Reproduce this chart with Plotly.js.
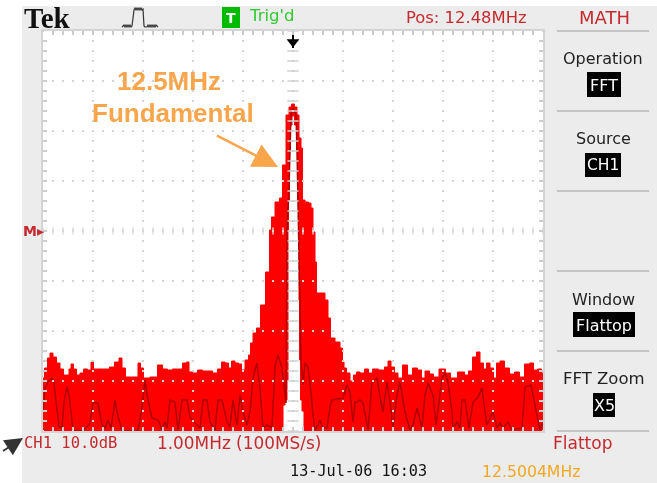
<!DOCTYPE html>
<html><head><meta charset="utf-8">
<script src="https://cdn.plot.ly/plotly-3.0.1.min.js"></script>
<style>html,body{margin:0;padding:0;background:#fff;overflow:hidden}#g{width:657px;height:483px;filter:blur(0.5px)}</style>
</head><body><div id="g"></div>
<script>
// Upper envelope of the FFT (MHz, dB above bottom of screen)
var envFreq=[7.48,7.54,7.60,7.64,7.72,7.78,7.86,7.92,7.98,8.02,8.06,8.12,8.18,8.26,8.32,8.42,8.46,8.52,8.62,8.76,8.86,8.96,9.04,9.08,9.18,9.36,9.40,9.46,9.52,9.72,9.82,9.92,10.02,10.12,10.22,10.32,10.38,10.42,10.52,10.62,10.72,10.82,10.92,11.02,11.08,11.16,11.22,11.28,11.36,11.42,11.48,11.56,11.62,11.64,11.72,11.78,11.88,11.98,12.04,12.06,12.18,12.24,12.30,12.38,12.42,12.48,12.54,12.58,12.62,12.66,12.68,12.76,12.82,12.86,12.90,12.94,12.96,13.08,13.16,13.20,13.26,13.38,13.46,13.48,13.52,13.58,13.66,13.72,13.78,13.86,13.96,14.02,14.12,14.26,14.36,14.40,14.48,14.54,14.62,14.72,14.82,14.92,15.02,15.08,15.16,15.26,15.32,15.48,15.58,15.68,15.86,15.96,16.02,16.12,16.18,16.26,16.32,16.38,16.46,16.52,16.58,16.66,16.76,16.86,16.96,17.06,17.16,17.26,17.32,17.42,17.48];
var envDb=[10.6,12.6,14.6,15.6,14.8,13.6,12.4,11.2,11.2,12.4,13.4,12.4,11.2,11.6,12.4,12.2,13.8,12.4,12.4,12.4,12.8,13.8,14.6,12.6,10.8,10.8,13.6,12.6,10.6,10.8,13.2,12.4,12.2,12.4,12.4,13.6,13.8,11.8,11.6,12.2,12.0,12.0,11.6,12.4,13.8,13.6,12.6,14.0,13.6,13.4,12.2,14.2,15.2,17.6,19.6,20.6,25.2,31.8,40.2,42.8,45.8,46.6,53.2,63.2,64.8,65.4,64.8,63.2,58.6,56.6,46.2,45.8,45.6,44.6,39.8,33.8,27.6,27.6,26.2,22.6,18.6,17.8,16.6,13.8,12.6,11.6,10.0,11.2,11.8,11.6,12.4,11.6,12.4,12.2,12.8,14.0,12.8,11.6,10.6,13.2,11.2,12.6,12.2,10.6,12.0,11.4,10.8,12.4,11.6,10.6,11.8,11.2,12.0,14.8,15.8,13.6,12.4,13.6,12.6,10.6,13.6,14.0,12.6,11.4,11.8,10.8,13.4,13.6,12.2,12.4,11.6];
// Inner edge of the hollow around the carrier, right foot over the top to the left foot
var holeFreq=[12.72,12.68,12.64,12.62,12.60,12.60,12.58,12.56,12.54,12.48,12.44,12.42,12.40,12.38,12.38,12.34,12.30,12.26];
var holeDb=[0,4,6.2,14.2,26.2,40.2,46.2,56.2,61.2,63,61.2,56.2,46.2,40.2,10.2,6.2,5.2,0];
// Darker instantaneous trace
var traceFreq=[7.48,7.52,7.58,7.66,7.70,7.76,7.80,7.86,7.90,7.96,8.00,8.04,8.08,8.28,8.36,8.42,8.48,8.58,8.66,8.72,8.78,8.84,8.92,8.96,9.06,9.38,9.46,9.52,9.56,9.66,9.78,9.86,9.92,9.96,10.02,10.12,10.18,10.26,10.36,10.42,10.52,10.62,10.68,10.76,10.82,10.92,10.98,11.06,11.16,11.22,11.28,11.36,11.42,11.48,11.56,11.62,11.68,11.76,11.82,11.88,11.96,12.06,12.12,12.18,12.26,12.34,12.36,12.40,12.42,12.44,12.48,12.54,12.56,12.58,12.60,12.62,12.64,12.68,12.72,12.78,12.84,12.88,12.92,12.98,13.02,13.08,13.16,13.22,13.26,13.48,13.56,13.62,13.68,13.72,13.82,13.88,13.98,14.06,14.16,14.24,14.28,14.36,14.42,14.48,14.56,14.62,14.72,14.82,14.88,14.96,15.06,15.12,15.18,15.28,15.34,15.38,15.46,15.52,15.58,15.66,15.68,15.76,15.82,15.86,15.92,16.00,16.08,16.18,16.26,16.32,16.36,16.48,16.56,16.62,16.68,16.78,16.86,17.06,17.12,17.24,17.32,17.42,17.48];
var traceDb=[3.8,8.6,9.8,10.6,9.6,4.6,0.8,0.6,5.8,8.8,7.2,3.8,0.2,0,0.8,1.6,5.6,5.6,1.2,0.6,2.2,0.6,6.2,3.8,0,0,4.6,10.2,7.2,2.6,2.2,0.2,1.8,0.6,6.2,5.8,0.2,6.2,6.2,2.8,1.6,0.6,6.2,6.2,1.8,0.2,6.2,6.2,1.8,0.8,6.2,1.2,7.2,3.8,1.2,3.8,10.6,13.6,8.6,0.6,1.2,0.6,13.2,15.2,12.6,5.6,40.2,48.2,56.2,63.2,64.6,63.2,56.2,46.2,39.2,26.2,14.2,9.2,13.6,12.8,7.8,3.2,0.2,1.2,2.2,0.6,0.6,4.8,6.2,6.6,9.2,7.8,1.8,5.6,6.2,5.6,0.2,9.8,10.6,5.6,3.8,9.8,5.8,0.6,7.2,9.8,3.8,0.2,1.2,4.6,0.6,7.2,9.6,7.2,1.2,4.2,10.6,11.6,9.8,3.8,0.6,1.8,0.6,6.2,6.2,0.6,5.8,6.8,8.6,3.8,1.2,3.8,0.6,1.6,0.6,1.8,0.2,0.6,8.8,9.2,5.2,0.2,1.8];
// Screen graticule
var divFreq=[7.48,8.48,9.48,10.48,11.48,12.48,13.48,14.48,15.48,16.48,17.48];
var divDb=[0,10,20,30,40,50,60,70,80];
var subFreq=[7.48,7.68,7.88,8.08,8.28,8.48,8.68,8.88,9.08,9.28,9.48,9.68,9.88,10.08,10.28,10.48,10.68,10.88,11.08,11.28,11.48,11.68,11.88,12.08,12.28,12.48,12.68,12.88,13.08,13.28,13.48,13.68,13.88,14.08,14.28,14.48,14.68,14.88,15.08,15.28,15.48,15.68,15.88,16.08,16.28,16.48,16.68,16.88,17.08,17.28,17.48];
var subDb=[0,2,4,6,8,10,12,14,16,18,20,22,24,26,28,30,32,34,36,38,40,42,44,46,48,50,52,54,56,58,60,62,64,66,68,70,72,74,76,78,80];
var centerFreq=12.48, centerDb=40;
var triggerDb=[79.6,76.6];
// Text
var softLabels=[["Operation",603,59,16],["Source",603,138,16],["Window",603,299,16],["FFT Zoom",604,378,16.5]];
var softValues=[["FFT",604,85,16],["CH1",603,165,15.5],["Flattop",604,325,16],["X5",604,405,16]];
var pulseX=[122,124,125,126,127,128,129,130,131,132,134,135,136,137,138,139,140,141,142,143,144,145,147,148,149,150,151,152,153,154,155,156,158];
var pulseY=[27,25,27,25,27,25,27,25,27,26,10,8,10,8,10,8,10,8,10,9,26,27,27,25,27,25,27,25,27,25,27,25,27];
var seps=[31,111,191,271,351,431];

var L=43,T=31,W=500,H=400;
function px(x){return (x-L)/W;} function py(y){return (T+H-y)/H;}
var MONO='"DejaVu Sans Mono", monospace', SANS='"DejaVu Sans", sans-serif';
var RED='#c42a2f';
function label(t,x,y,size,color,family,weight){
  return {text:t,xref:'paper',yref:'paper',x:px(x),y:py(y),xanchor:'center',yanchor:'middle',showarrow:false,
    font:{family:family||SANS,size:size,color:color,weight:weight||400}};
}
var dotX=[],dotY=[];
divFreq.forEach(function(f){subDb.forEach(function(d){dotX.push(f);dotY.push(d);});});
divDb.forEach(function(d){subFreq.forEach(function(f){dotX.push(f);dotY.push(d);});});

var polyX=envFreq.concat([17.48]).concat(holeFreq).concat([7.48]);
var polyY=envDb.concat([0]).concat(holeDb).concat([0]);

var traces=[
 {x:polyX,y:polyY,mode:'lines',fill:'toself',fillcolor:'#ff0000',line:{color:'#ff0000',width:1,shape:'hvh'},hoverinfo:'skip'},
 {x:traceFreq,y:traceDb,mode:'lines',line:{color:'#b00000',width:1.5},hoverinfo:'skip'},
 {x:dotX,y:dotY,mode:'markers',marker:{symbol:'square',size:2,color:'#d2d2d2'},hoverinfo:'skip'},
 {x:subDb.map(function(){return centerFreq;}),y:subDb,mode:'markers',marker:{symbol:'line-ew',size:8,line:{color:'#cfcfcf',width:1.5}},hoverinfo:'skip'},
 {x:subFreq,y:subFreq.map(function(){return centerDb;}),mode:'markers',marker:{symbol:'line-ns',size:5,line:{color:'#d8d8d8',width:1.4}},hoverinfo:'skip'},
 {x:[centerFreq,centerFreq],y:triggerDb,mode:'lines',line:{color:'#000',width:2},hoverinfo:'skip'},
 {x:[centerFreq],y:[triggerDb[1]+1.2],mode:'markers',marker:{symbol:'triangle-down',size:11,color:'#000'},hoverinfo:'skip'}
];

var shapes=[
 {type:'rect',xref:'paper',yref:'paper',x0:px(-5),x1:px(22),y0:py(490),y1:py(-5),fillcolor:'#fff',line:{width:0},layer:'above'},
 {type:'rect',xref:'paper',yref:'paper',x0:px(-5),x1:px(665),y0:py(6),y1:py(-5),fillcolor:'#fff',line:{width:0},layer:'above'},
 {type:'rect',xref:'paper',yref:'paper',x0:px(222),x1:px(240),y0:py(28),y1:py(7),fillcolor:'#00bb00',line:{width:0}},
 {type:'rect',xref:'paper',yref:'paper',x0:px(587),x1:px(621),y0:py(97),y1:py(72),fillcolor:'#000',line:{width:0}},
 {type:'rect',xref:'paper',yref:'paper',x0:px(585),x1:px(621),y0:py(177),y1:py(153),fillcolor:'#000',line:{width:0}},
 {type:'rect',xref:'paper',yref:'paper',x0:px(573),x1:px(635),y0:py(337),y1:py(312),fillcolor:'#000',line:{width:0}},
 {type:'rect',xref:'paper',yref:'paper',x0:px(593),x1:px(615),y0:py(417),y1:py(393),fillcolor:'#000',line:{width:0}},
 {type:'path',xref:'paper',yref:'paper',path:pulseX.map(function(x,i){return (i?'L':'M')+px(x)+','+py(pulseY[i]);}).join(' '),line:{color:'#333',width:1.2}}
].concat(seps.map(function(y){return {type:'line',xref:'paper',yref:'paper',x0:px(557),x1:px(649),y0:py(y),y1:py(y),line:{color:'#b9b9b9',width:1.5}};}));

var anns=[
 label('Tek',47,18,29,'#111','"Liberation Serif"',700),
 label('T',231,18,14,'#fff',SANS,700),
 label("Trig'd",272,16,16.5,'#2ecb2e'),
 label('Pos: 12.48MHz',466,17,16.4,RED),
 label('MATH',604,17,18,RED),
 label('12.5MHz',169,81,26,'#f8a54c','"Liberation Sans"',700),
 label('Fundamental',173,113,26,'#f8a54c','"Liberation Sans"',700),
 label('CH1 10.0dB',70,443,15.5,RED,MONO),
 label('1.00MHz (100MS/s)',239,443,16.9,RED),
 label('Flattop',582,443,17,RED),
 label('13-Jul-06 16:03',358,471,15.2,'#111',MONO),
 label('12.5004MHz',531,471,15.7,'#f5a623'),
 label('M▸',33,231,14,RED,SANS,700),
 {xref:'paper',yref:'paper',x:px(278),y:py(167),ax:-64,ay:-33,text:' ',showarrow:true,arrowhead:2,arrowsize:2,arrowwidth:2.5,arrowcolor:'#f8a54c'},
 {xref:'paper',yref:'paper',x:px(23),y:py(438),ax:-24,ay:15,text:' ',showarrow:true,arrowhead:2,arrowsize:2,arrowwidth:1.8,arrowcolor:'#333'}
];
softLabels.forEach(function(s){anns.push(label(s[0],s[1],s[2],s[3],'#222'));});
softValues.forEach(function(s){anns.push(label(s[0],s[1],s[2],s[3],'#fff'));});

var axisBase={showgrid:false,zeroline:false,showticklabels:false,ticks:'inside',ticklen:4,tickwidth:1.5,tickcolor:'#cccccc',
  showline:true,linecolor:'#d4d4d4',linewidth:2,mirror:'ticks',layer:'above traces',fixedrange:true};
var layout={width:657,height:483,margin:{l:L,r:657-L-W,t:T,b:483-T-H,pad:0},paper_bgcolor:'#ececec',plot_bgcolor:'#ffffff',showlegend:false,
  xaxis:Object.assign({},axisBase,{range:[7.48,17.48],tick0:7.48,dtick:0.2}),
  yaxis:Object.assign({},axisBase,{range:[0,80],tick0:0,dtick:2}),
  shapes:shapes,annotations:anns};
Plotly.newPlot('g',traces,layout,{displayModeBar:false,staticPlot:true});
</script></body></html>
